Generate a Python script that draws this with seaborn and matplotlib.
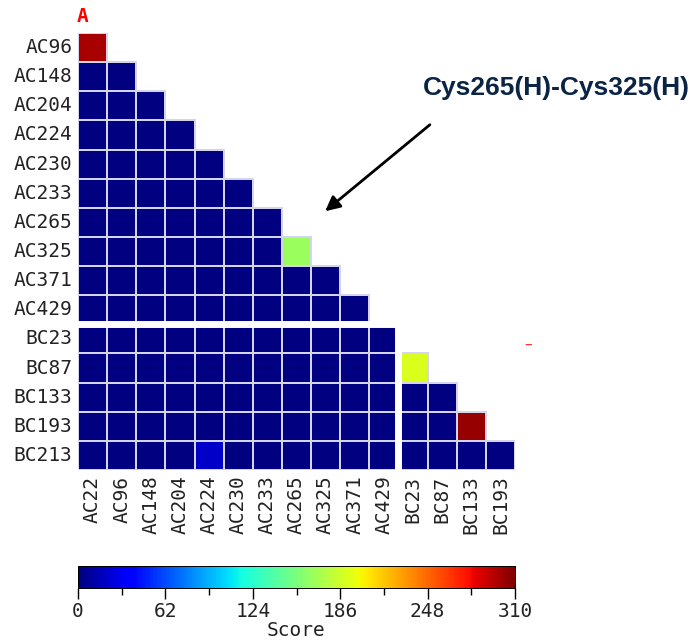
import numpy as np
import pandas as pd
import seaborn as sns
import matplotlib.pyplot as plt
from matplotlib.colors import to_rgba
from matplotlib.ticker import MultipleLocator

# Row and column residue labels
row_labels = ['AC96', 'AC148', 'AC204', 'AC224', 'AC230', 'AC233', 'AC265', 'AC325',
              'AC371', 'AC429', 'BC23', 'BC87', 'BC133', 'BC193', 'BC213']
col_labels = ['AC22', 'AC96', 'AC148', 'AC204', 'AC224', 'AC230', 'AC233', 'AC265',
              'AC325', 'AC371', 'AC429', 'BC23', 'BC87', 'BC133', 'BC193']

# Lower-triangle scores, one list per row (row i has i+1 values)
scores = [
    [298],
    [0, 0],
    [0, 0, 0],
    [0, 0, 0, 0],
    [0, 0, 0, 0, 0],
    [0, 0, 0, 0, 0, 0],
    [0, 0, 0, 0, 0, 0, 0],
    [0, 0, 0, 0, 0, 0, 0, 167],
    [0, 0, 0, 0, 0, 0, 0, 0, 0],
    [0, 0, 0, 0, 0, 0, 0, 0, 0, 0],
    [0, 0, 0, 0, 0, 0, 0, 0, 0, 0, 0],
    [0, 0, 0, 0, 0, 0, 0, 0, 0, 0, 0, 191],
    [0, 0, 0, 0, 0, 0, 0, 0, 0, 0, 0, 0, 0],
    [0, 0, 0, 0, 0, 0, 0, 0, 0, 0, 0, 0, 0, 303],
    [0, 0, 0, 0, 20, 0, 0, 0, 0, 0, 0, 0, 0, 0, 0],
]
cbar_ticks = [0, 62, 124, 186, 248, 310]

n = len(row_labels)
mat = np.full((n, len(col_labels)), np.nan)
for i, row in enumerate(scores):
    mat[i, :len(row)] = row
df = pd.DataFrame(mat, index=row_labels, columns=col_labels)
empty = np.isnan(mat)

fig = plt.figure(figsize=(6.91, 6.41), dpi=100)
ax = fig.add_axes([78 / 691, 1 - 470 / 641, 437 / 691, 437 / 641])
cax = fig.add_axes([78 / 691, 1 - 588 / 641, 437 / 691, 22 / 641])

grid_col = '#d4d4ec'
sns.heatmap(df, ax=ax, cbar_ax=cax, cmap='jet', vmin=0, vmax=310,
            mask=empty, linewidths=1.2, linecolor=grid_col,
            cbar_kws={'orientation': 'horizontal', 'ticks': cbar_ticks})

# no grid edges on the empty upper triangle
mesh = ax.collections[0]
ec = np.tile(to_rgba(grid_col), (mat.size, 1))
ec[empty.ravel()] = (0, 0, 0, 0)
mesh.set_edgecolor(ec)

# white gaps between chain A and chain B blocks
ax.axhline(10, color='white', lw=5)
ax.axvline(11, color='white', lw=5)

mono = 'DejaVu Sans Mono'
ax.tick_params(length=0, pad=4)
ax.set_xticklabels(col_labels, rotation=90, family=mono, fontsize=14, color='#222222')
ax.set_yticklabels(row_labels, rotation=0, family=mono, fontsize=14, color='#222222')
ax.set_xlabel('')
ax.set_ylabel('')

cax.xaxis.set_minor_locator(MultipleLocator(31))
cax.tick_params(which='major', length=8, width=1, labelsize=14, pad=2)
cax.tick_params(which='minor', length=5, width=1)
for t in cax.get_xticklabels():
    t.set_family(mono)
    t.set_color('#222222')
cax.set_xlabel('Score', family=mono, fontsize=14, labelpad=0, color='#222222')
for s in cax.spines.values():
    s.set_visible(True)
    s.set_linewidth(0.6)

# panel letter and annotation
fig.text(83 / 691, 1 - 17 / 641, 'A', color='red', fontsize=14, fontweight='bold',
         family=mono, ha='center', va='center')
fig.text(528 / 691, 1 - 344 / 641, '\u2013', color='#ff3030', fontsize=11, ha='center', va='center')
ax.annotate('', xy=(323 / 691, 1 - 213 / 641), xycoords='figure fraction',
            xytext=(432 / 691, 1 - 123 / 641), textcoords='figure fraction',
            arrowprops=dict(arrowstyle='-|>', color='black', lw=2, mutation_scale=22))
fig.text(556 / 691, 1 - 88 / 641, 'Cys265(H)-Cys325(H)', color='#0b2446', fontsize=19,
         fontweight='bold', family='Liberation Sans', ha='center', va='center')

fig.savefig('out.png', dpi=100)
